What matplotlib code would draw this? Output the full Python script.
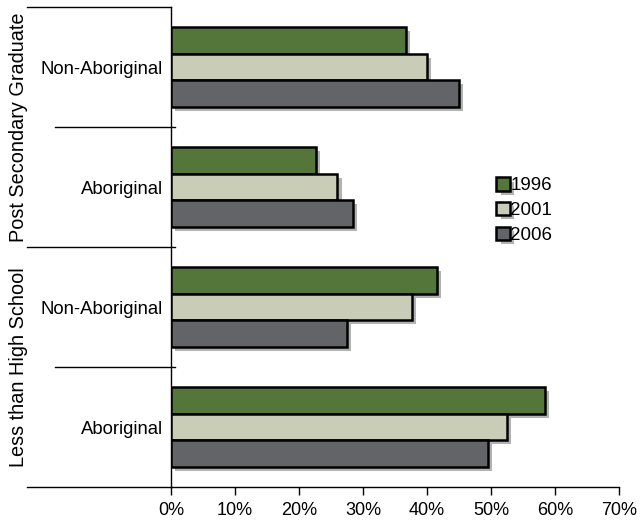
import numpy as np
import matplotlib
matplotlib.use("Agg")
import matplotlib.pyplot as plt
import matplotlib.patheffects as pe
import matplotlib.transforms as mtransforms

plt.rcParams['font.family'] = ['Liberation Sans', 'DejaVu Sans']

# data (percent), top to bottom
categories = ["Non-Aboriginal", "Aboriginal", "Non-Aboriginal", "Aboriginal"]
groups = ["Post Secondary Graduate", "Less than High School"]
years = ["1996", "2001", "2006"]
v1996 = [36.7, 22.7, 41.6, 58.4]
v2001 = [40.0, 26.0, 37.7, 52.5]
v2006 = [45.0, 28.4, 27.5, 49.5]
colors = ["#55763a", "#c9cdb8", "#636467"]

fig = plt.figure(figsize=(6.44, 5.22), dpi=100)
ax = fig.add_axes([171 / 644, 1 - 487 / 522, 448 / 644, 480 / 522])

y = np.arange(len(categories))
h = 0.222
shadow = [pe.SimplePatchShadow(offset=(3, -3), shadow_rgbFace="#555555", alpha=0.45), pe.Normal()]
for i, (vals, col, yr) in enumerate(zip([v1996, v2001, v2006], colors, years)):
    bars = ax.barh(y + (i - 1) * h, vals, height=h, color=col, edgecolor="black",
                   linewidth=1.8, label=yr, zorder=3)
    for b in bars:
        b.set_path_effects(shadow)

ax.set_xlim(0, 70)
ax.set_ylim(3.5, -0.5)
ax.set_xticks(np.arange(0, 71, 10))
ax.set_xticklabels([f"{t}%" for t in range(0, 71, 10)], fontsize=13)
ax.set_yticks(y)
ax.set_yticklabels(categories, fontsize=13.3)
ax.tick_params(axis="y", length=0, pad=6)
ax.tick_params(axis="x", direction="out", length=6, width=1, pad=5)
for s in ["top", "right"]:
    ax.spines[s].set_visible(False)
ax.spines["left"].set_linewidth(1)
ax.spines["bottom"].set_linewidth(1)

# group separators
trans = mtransforms.blended_transform_factory(fig.transFigure, ax.transData)
x0 = 27 / 644
xs = 55 / 644
xe = 175 / 644
ax.plot([x0, 171 / 644], [-0.5, -0.5], color="black", lw=1, transform=trans, clip_on=False)
ax.plot([x0, 171 / 644], [3.5, 3.5], color="black", lw=1, transform=trans, clip_on=False)
ax.plot([xs, xe], [0.5, 0.5], color="black", lw=1, transform=trans, clip_on=False)
ax.plot([x0, xe], [1.5, 1.5], color="black", lw=1, transform=trans, clip_on=False)
ax.plot([xs, xe], [2.5, 2.5], color="black", lw=1, transform=trans, clip_on=False)

for k, g in enumerate(groups):
    ax.text(19 / 644, 2 * k + 0.5, g, transform=trans, rotation=90, ha="center",
            va="center", fontsize=14.3)

leg = ax.legend(loc="upper left", bbox_to_anchor=(487 / 644, 1 - 168 / 522),
                bbox_transform=fig.transFigure, frameon=False, fontsize=13.5,
                handlelength=0.7, handleheight=0.7, handletextpad=0.05,
                labelspacing=0.4, borderpad=0)
for p in leg.get_patches():
    p.set_path_effects(shadow)

fig.savefig("out.png", dpi=100)
